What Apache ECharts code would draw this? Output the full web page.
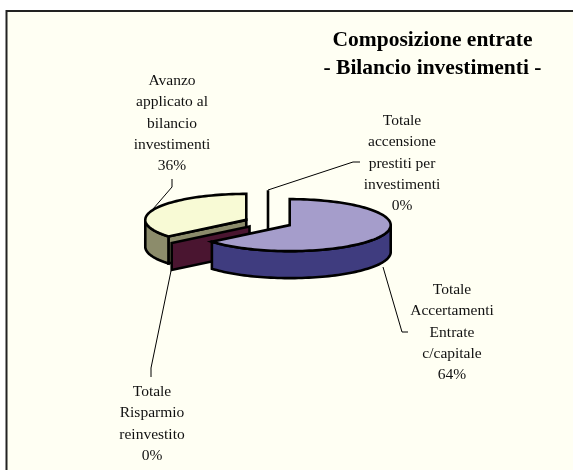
<!DOCTYPE html>
<html>
<head>
<meta charset="utf-8">
<style>html,body{margin:0;padding:0;background:#fff}#main{width:573px;height:470px}</style>
<script src="https://cdn.jsdelivr.net/npm/echarts@6/dist/echarts.min.js"></script>
</head>
<body>
<div id="main"></div>
<script>
// slices clockwise from 12 o'clock
var names = [
  'Totale\nAccertamenti\nEntrate\nc/capitale',
  'Totale\nRisparmio\nreinvestito',
  'Avanzo\napplicato al\nbilancio\ninvestimenti',
  'Totale\naccensione\nprestiti per\ninvestimenti'
];
var values = [64, 0, 36, 0];
var topColors = ['#A59DCB', '#4A1530', '#F8FAD5', '#FFFFFF'];
var sideColors = ['#3F3C7F', '#4A1530', '#8C8C6B', '#FFFFFF'];

// pie layout
var cx = 268, cy = 222.5, rx = 101, ry = 26, depth = 27, explode = 24;
var labelPos = [[452, 279], [152, 381], [172, 70], [402, 110]];
var leaders = [
  [[383, 267], [402, 332], [408, 332]],
  [[171, 271], [151, 368], [151, 377]],
  [[153, 209], [172, 187], [172, 179]],
  [[268, 190], [353, 162], [360, 162]]
];

var total = values.reduce(function (a, b) { return a + b; }, 0);
var slices = [];
var acc = 0;
values.forEach(function (v, i) {
  slices.push({ index: i, from: acc / total * 360, to: (acc + v) / total * 360 });
  acc += v;
});
// back to front: the big slice has to cover the others
var drawOrder = [3, 2, 1, 0];

function pt(c, deg, dy) {
  var r = deg * Math.PI / 180;
  return [c[0] + rx * Math.sin(r), c[1] - ry * Math.cos(r) + (dy || 0)];
}

function arc(c, a, b, dy) {
  var pts = [];
  var n = Math.max(1, Math.ceil((b - a) / 2));
  for (var i = 0; i <= n; i++) {
    pts.push(pt(c, a + (b - a) * i / n, dy));
  }
  return pts;
}

function poly(points, fill) {
  return {
    type: 'polygon',
    shape: { points: points },
    style: { fill: fill, stroke: '#000', lineWidth: 2.6, lineJoin: 'miter' }
  };
}

function renderSlice(params, api) {
  var i = api.value(0);
  var s = slices[i];
  var mid = (s.from + s.to) / 2 * Math.PI / 180;
  var c = [
    cx + explode * Math.sin(mid),
    cy - explode * ry / rx * Math.cos(mid)
  ];
  var kids = [];

  kids.push({
    type: 'polyline',
    shape: { points: leaders[i] },
    style: { fill: null, stroke: '#000', lineWidth: 1 }
  });

  // radial walls facing the viewer
  if (Math.sin(s.from * Math.PI / 180) < 0) {
    var p = pt(c, s.from);
    kids.push(poly([c, p, [p[0], p[1] + depth], [c[0], c[1] + depth]], sideColors[i]));
  }
  if (s.to > s.from && Math.sin(s.to * Math.PI / 180) > 1e-9) {
    var q = pt(c, s.to);
    kids.push(poly([c, q, [q[0], q[1] + depth], [c[0], c[1] + depth]], sideColors[i]));
  }
  // outer rim, front half only
  var a = Math.max(s.from, 90), b = Math.min(s.to, 270);
  if (b > a) {
    kids.push(poly(arc(c, a, b).concat(arc(c, a, b, depth).reverse()), sideColors[i]));
  }
  // top face
  if (s.to > s.from) {
    kids.push(poly([c].concat(arc(c, s.from, s.to)), topColors[i]));
  }

  kids.push({
    type: 'text',
    style: {
      text: names[i] + '\n' + Math.round(api.value(1) / total * 100) + '%',
      x: labelPos[i][0],
      y: labelPos[i][1],
      align: 'center',
      verticalAlign: 'top',
      fontFamily: '"Liberation Serif"',
      fontSize: 15.5,
      lineHeight: 21.4,
      fill: '#111'
    }
  });
  return { type: 'group', children: kids };
}

var chart = echarts.init(document.getElementById('main'), null, { renderer: 'canvas' });
chart.setOption({
  animation: false,
  backgroundColor: '#fff',
  title: {
    text: 'Composizione entrate\n- Bilancio investimenti -',
    left: 427.5,
    top: 21,
    textAlign: 'center',
    textStyle: {
      fontFamily: '"Liberation Serif"',
      fontSize: 21.5,
      fontWeight: 'bold',
      color: '#000',
      lineHeight: 28
    }
  },
  graphic: [{
    type: 'rect',
    silent: true,
    shape: { x: 6.5, y: 11, width: 620, height: 520 },
    style: { fill: '#FFFFF3', stroke: '#222', lineWidth: 2 }
  }],
  series: [{
    type: 'custom',
    coordinateSystem: 'none',
    silent: true,
    renderItem: renderSlice,
    data: drawOrder.map(function (i) { return [i, values[i]]; })
  }]
});
</script>
</body>
</html>
